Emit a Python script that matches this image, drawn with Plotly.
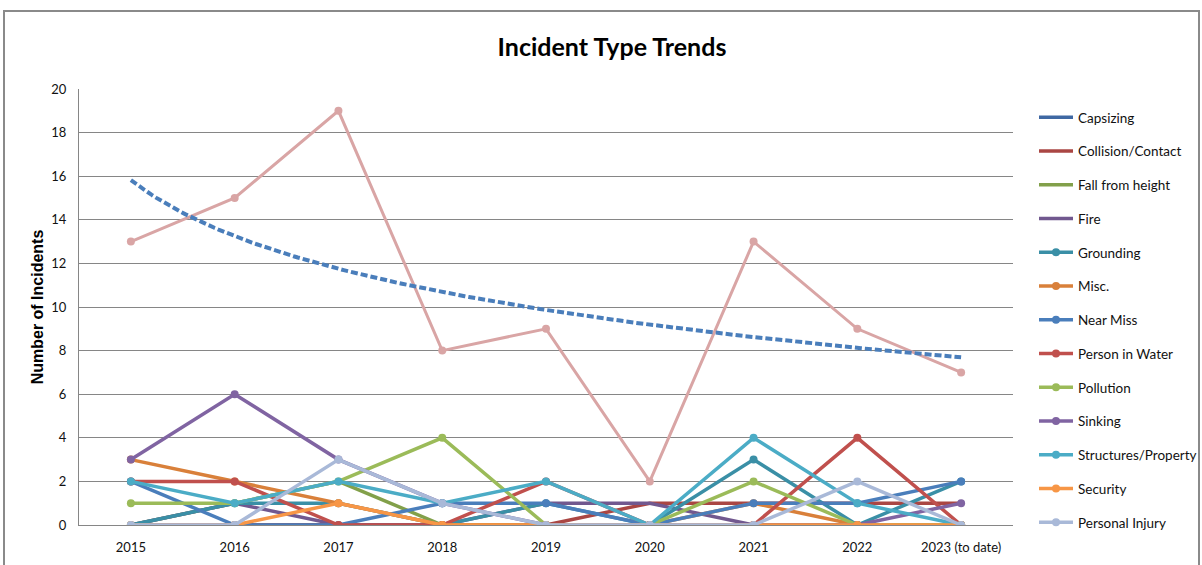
import numpy as np
import plotly.graph_objects as go

years = ["2015", "2016", "2017", "2018", "2019", "2020", "2021", "2022", "2023 (to date)"]

capsizing = [0, 0, 0, 0, 0, 0, 0, 0, 0]
collision_contact = [0, 0, 0, 0, 0, 1, 1, 1, 1]
fall_from_height = [0, 1, 2, 0, 0, 0, 0, 0, 0]
fire = [0, 1, 0, 0, 1, 1, 0, 0, 0]
grounding = [0, 1, 1, 0, 1, 0, 3, 0, 2]
misc = [3, 2, 1, 0, 0, 0, 1, 0, 0]
near_miss = [2, 0, 0, 1, 1, 0, 1, 1, 2]
person_in_water = [2, 2, 0, 0, 2, 0, 0, 4, 0]
pollution = [1, 1, 2, 4, 0, 0, 2, 0, 0]
sinking = [3, 6, 3, 1, 0, 0, 0, 0, 1]
structures_property = [2, 1, 2, 1, 2, 0, 4, 1, 0]
security = [0, 0, 1, 0, 0, 0, 0, 0, 0]
personal_injury = [0, 0, 3, 1, 0, 0, 0, 2, 0]
total = [13, 15, 19, 8, 9, 2, 13, 9, 7]

series = [
    ("Capsizing", capsizing, "#3F68A3", False),
    ("Collision/Contact", collision_contact, "#AA4643", False),
    ("Fall from height", fall_from_height, "#82A04A", False),
    ("Fire", fire, "#71588F", False),
    ("Grounding", grounding, "#3A8FA6", True),
    ("Misc.", misc, "#D9803A", True),
    ("Near Miss", near_miss, "#4A7EBB", True),
    ("Person in Water", person_in_water, "#C0504D", True),
    ("Pollution", pollution, "#9BBB59", True),
    ("Sinking", sinking, "#8064A2", True),
    ("Structures/Property", structures_property, "#4BACC6", True),
    ("Security", security, "#F79646", True),
    ("Personal Injury", personal_injury, "#A9B9D8", True),
]

xi = list(range(len(years)))
fig = go.Figure()

for i, (name, vals, color, mk) in enumerate(series):
    fig.add_trace(go.Scatter(
        x=xi, y=vals, name=name, legendgroup=f"g{i}",
        mode="lines+markers" if mk else "lines",
        line=dict(color=color, width=3.5),
        marker=dict(symbol="circle", size=8, color=color),
    ))

fig.add_trace(go.Scatter(
    x=xi, y=total, name="Total", showlegend=False,
    mode="lines+markers",
    line=dict(color="#D9A5A5", width=3),
    marker=dict(symbol="circle", size=8, color="#D9A5A5"),
))

# logarithmic trendline fitted to the total series
lx = np.log(np.arange(1, len(total) + 1))
b, a = np.polyfit(lx, np.array(total, dtype=float), 1)
tx = np.linspace(0, len(total) - 1, 200)
ty = a + b * np.log(tx + 1)
fig.add_trace(go.Scatter(
    x=tx, y=ty, mode="lines", showlegend=False, hoverinfo="skip",
    line=dict(color="#4A7EBB", width=4, dash="7px,3px"),
))

W, H = 1202, 565
L, R, T, B = 79, 189, 89, 40
pw, ph = W - L - R, H - T - B

def px_x(p):
    return (p - L) / pw

def px_y(p):
    return (H - B - p) / ph

fig.update_layout(
    width=W, height=H,
    margin=dict(l=L, r=R, t=T, b=B, autoexpand=False),
    paper_bgcolor="white", plot_bgcolor="white",
    title=dict(text="<b>Incident Type Trends</b>", x=(612) / W, xanchor="center",
               y=1 - 47 / H, yanchor="middle",
               font=dict(family="Lato", size=25, color="#000000")),
    xaxis=dict(
        range=[-0.5, len(years) - 0.5], tickmode="array", tickvals=xi, ticktext=years,
        showgrid=False, zeroline=False, showline=True, linecolor="#868686", linewidth=1,
        ticks="", ticklabelstandoff=10,
        tickfont=dict(family="Lato", size=13, color="#111111"),
    ),
    yaxis=dict(
        range=[0, 20], dtick=2, showgrid=True, gridcolor="#868686", gridwidth=1,
        zeroline=False, showline=True, linecolor="#868686", linewidth=1, ticks="",
        ticklabelstandoff=9,
        tickfont=dict(family="Lato", size=13, color="#111111"),
        title=dict(text="<b>Number of Incidents</b>", standoff=3,
                   font=dict(family="Liberation Sans", size=16, color="#000000")),
    ),
    legend=dict(
        x=px_x(1034), xanchor="left", y=px_y(102), yanchor="top",
        font=dict(family="Lato", size=13.5, color="#111111"),
        tracegroupgap=13.2, itemwidth=34, bgcolor="rgba(0,0,0,0)",
        maxheight=520,
    ),
    shapes=[dict(type="rect", xref="paper", yref="paper",
                 x0=px_x(4), x1=px_x(1199), y0=px_y(575), y1=px_y(11),
                 line=dict(color="#8A8A8A", width=2), fillcolor="rgba(0,0,0,0)", layer="below")],
    showlegend=True,
)

fig.write_html("out.html")
